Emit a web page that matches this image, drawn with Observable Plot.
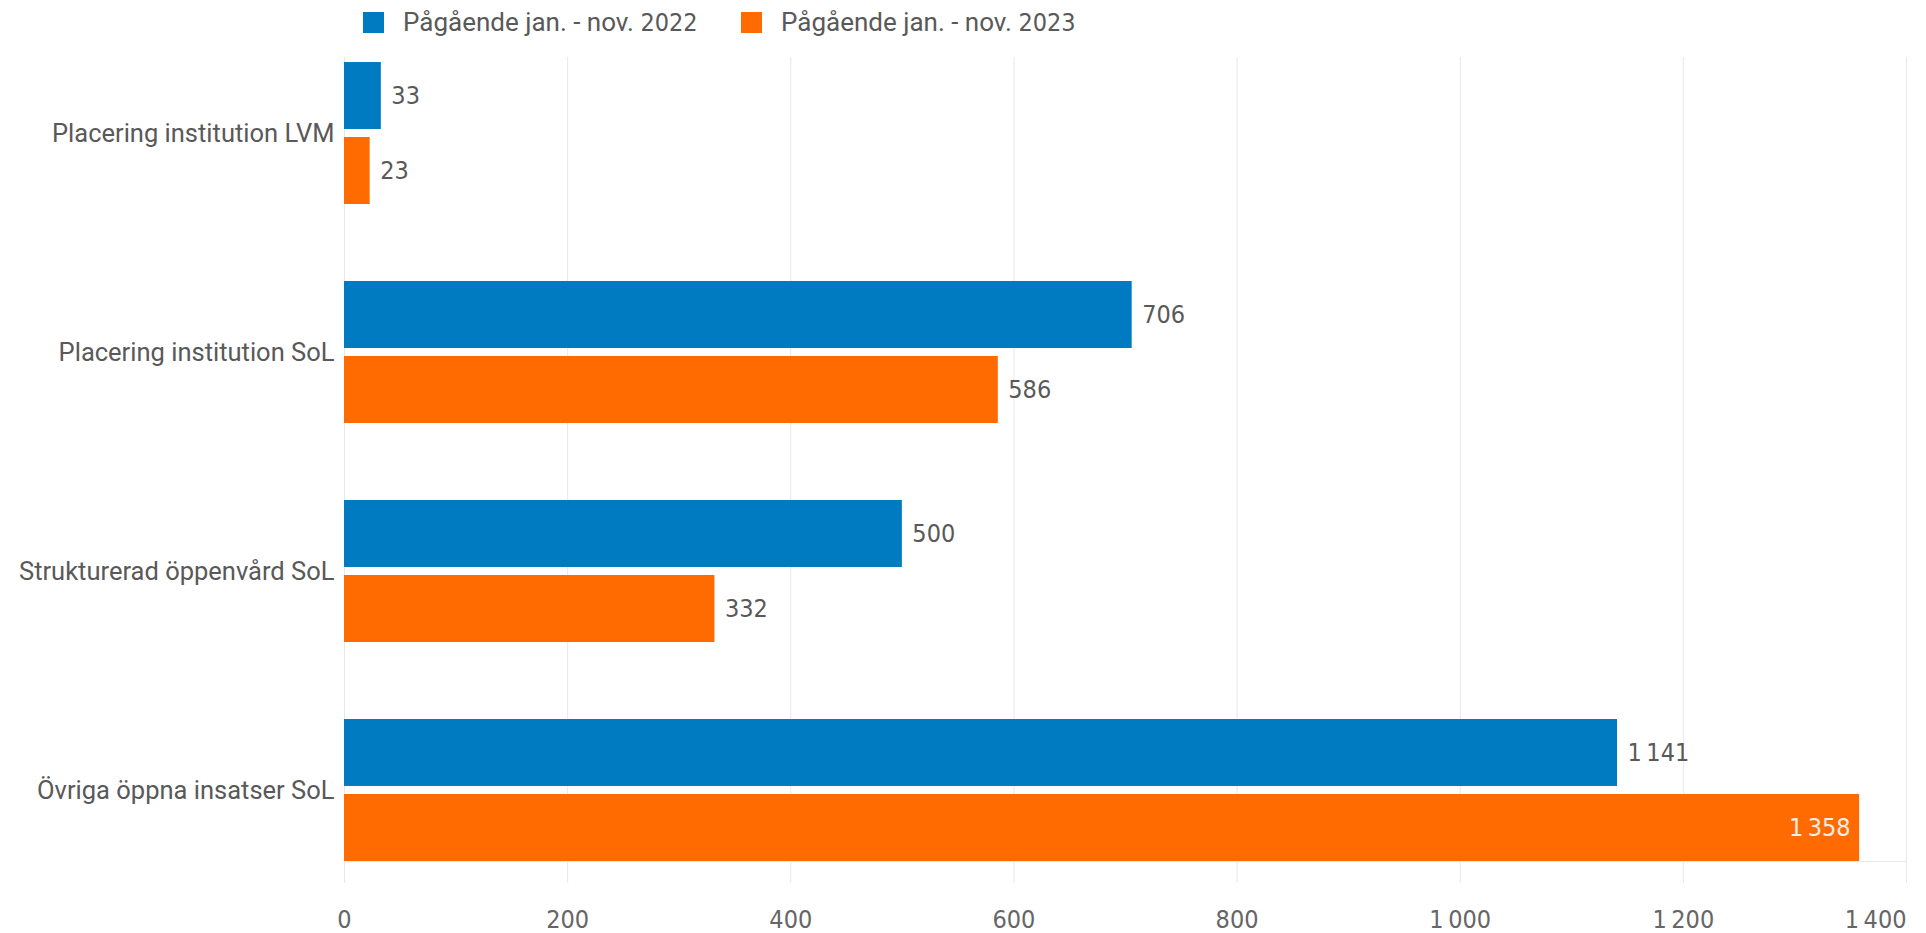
<!DOCTYPE html>
<html><head><meta charset="utf-8">
<script src="https://cdn.jsdelivr.net/npm/d3@7"></script>
<script src="https://cdn.jsdelivr.net/npm/@observablehq/plot@0.6"></script>
<style>
body{margin:0;background:#fff;}
#legend{position:relative;height:44px;width:1926px;font-family:Roboto, sans-serif;font-size:26px;color:#595959;}
.item{position:absolute;top:0;height:44px;display:flex;align-items:center;white-space:nowrap;}
.sw{width:21px;height:21px;margin-right:19px;flex:none;}
.mono{font-family:"DejaVu Sans Condensed", sans-serif;font-size:25px;}
</style></head><body>
<div id="legend"></div><div id="chart"></div>
<script>
const categories = ["Placering institution LVM","Placering institution SoL","Strukturerad öppenvård SoL","Övriga öppna insatser SoL"];
const series = ["Pågående jan. - nov. 2022","Pågående jan. - nov. 2023"];
const values2022 = [33, 706, 500, 1141];
const values2023 = [23, 586, 332, 1358];
const xTicks = [0, 200, 400, 600, 800, 1000, 1200, 1400];
const colors = ["#007bc1", "#ff6b00"];

const fmt = d3.formatLocale({thousands: "\u2009", grouping: [3], decimal: ","}).format(",d");
const numFont = "DejaVu Sans Condensed";

// legend
const legend = document.getElementById("legend");
const legendLeft = [363, 741];
series.forEach((s, i) => {
  const item = document.createElement("div");
  item.className = "item";
  item.style.left = legendLeft[i] + "px";
  const sw = document.createElement("div");
  sw.className = "sw";
  sw.style.background = colors[i];
  item.appendChild(sw);
  const label = document.createElement("span");
  s.split(/(\d+)/).forEach(part => {
    if (!part) return;
    if (/^\d+$/.test(part)) {
      const m = document.createElement("span"); m.className = "mono"; m.textContent = part; label.appendChild(m);
    } else label.appendChild(document.createTextNode(part));
  });
  item.appendChild(label);
  legend.appendChild(item);
});

const rows22 = categories.map((c, i) => ({category: c, series: series[0], value: values2022[i]}));
const rows23 = categories.map((c, i) => ({category: c, series: series[1], value: values2023[i]}));
const xMax = xTicks[xTicks.length - 1];
const fits = d => d.value <= xMax - 70;
const numStyle = {fontSize: 25, fontFamily: numFont};

const chart = Plot.plot({
  width: 1926, height: 889,
  marginLeft: 344, marginRight: 20, marginTop: 17, marginBottom: 72,
  x: {domain: [0, xMax], label: null},
  y: {domain: categories, paddingInner: 0.3525, paddingOuter: 0, label: null},
  color: {domain: series, range: colors},
  marks: [
    Plot.gridX(xTicks, {stroke: "#e8e8e8", strokeOpacity: 1, insetTop: -4, insetBottom: -22}),
    Plot.frame({anchor: "bottom", stroke: "#e8e8e8", strokeOpacity: 1}),
    Plot.barX(rows22, {y: "category", x: "value", fill: "series", insetBottom: 75}),
    Plot.barX(rows23, {y: "category", x: "value", fill: "series", insetTop: 75}),
    Plot.text(rows22.filter(fits), {y: "category", x: "value", text: d => fmt(d.value), dy: -37.5, dx: 10, textAnchor: "start", fill: "#595959", ...numStyle}),
    Plot.text(rows23.filter(fits), {y: "category", x: "value", text: d => fmt(d.value), dy: 37.5, dx: 10, textAnchor: "start", fill: "#595959", ...numStyle}),
    Plot.text(rows22.filter(d => !fits(d)), {y: "category", x: "value", text: d => fmt(d.value), dy: -37.5, dx: -9, textAnchor: "end", fill: "#f4ece6", ...numStyle}),
    Plot.text(rows23.filter(d => !fits(d)), {y: "category", x: "value", text: d => fmt(d.value), dy: 37.5, dx: -9, textAnchor: "end", fill: "#f4ece6", ...numStyle}),
    Plot.axisY({tickSize: 0, tickPadding: 10, fontSize: 25.5, fontFamily: "Roboto", fill: "#595959", label: null}),
    Plot.axisX(xTicks.slice(0, -1), {tickSize: 0, tickPadding: 49, tickFormat: fmt, fill: "#666666", label: null, ...numStyle}),
    Plot.axisX(xTicks.slice(-1), {tickSize: 0, tickPadding: 49, tickFormat: fmt, fill: "#666666", label: null, textAnchor: "end", ...numStyle})
  ]
});
document.getElementById("chart").appendChild(chart);
</script>
</body></html>
